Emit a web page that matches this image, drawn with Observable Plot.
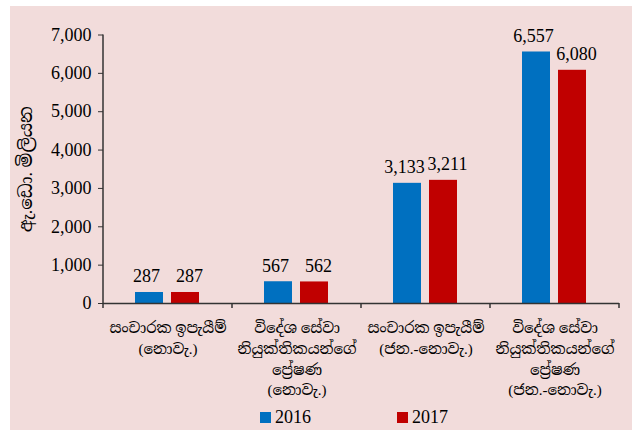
<!DOCTYPE html>
<html>
<head>
<meta charset="utf-8">
<script src="https://cdn.jsdelivr.net/npm/d3@7"></script>
<script src="https://cdn.jsdelivr.net/npm/@observablehq/plot@0.6"></script>
<style>
  html, body { margin: 0; padding: 0; background: #fff; }
  #box { position: absolute; left: 10px; top: 6px; width: 622px; height: 424px; background: #F2DCDB; overflow: hidden; }
  #legend { position: absolute; left: 250px; top: 401px; display: flex; gap: 86px; font-family: "Liberation Serif", serif; font-size: 18px; color: #000; }
  #legend .item { display: flex; align-items: center; gap: 4px; }
  #legend .sw { width: 11px; height: 11px; }
</style>
</head>
<body>
<div id="box"><div id="legend"></div></div>
<script>
const categories = [
  "සංචාරක ඉපැයීම්\n(නොවැ.)",
  "විදේශ සේවා\nනියුක්තිකයන්ගේ\nප්‍රේෂණ\n(නොවැ.)",
  "සංචාරක ඉපැයීම්\n(ජන.-නොවැ.)",
  "විදේශ සේවා\nනියුක්තිකයන්ගේ\nප්‍රේෂණ\n(ජන.-නොවැ.)"
];
const years = ["2016", "2017"];
const values2016 = [287, 567, 3133, 6557];
const values2017 = [287, 562, 3211, 6080];
const yTicks = [0, 1000, 2000, 3000, 4000, 5000, 6000, 7000];
const yLabel = "ඇ.ඩො. මිලියන";
const colors = ["#0070C0", "#C00000"];

const data = categories.flatMap((c, i) => [
  {cat: c, year: years[0], value: values2016[i]},
  {cat: c, year: years[1], value: values2017[i]}
]);
const fmt = d3.format(",");
const FONT = '"Liberation Serif", "Noto Serif Sinhala", "Noto Sans Sinhala", serif';

const labelMark = (yr, dx) => Plot.text(data.filter(d => d.year === yr), {
  fx: "cat", x: "year", y: "value", text: d => fmt(d.value),
  dy: -10, dx, lineAnchor: "bottom", fontSize: 18, fill: "#000"
});

const plot = Plot.plot({
  width: 622,
  height: 400,
  marginLeft: 92,
  marginRight: 13,
  marginTop: 28.5,
  marginBottom: 103,
  style: {background: "transparent", fontFamily: FONT, fontSize: "18px", color: "#000"},
  fx: {domain: categories, padding: 0, label: null, axis: null},
  x: {domain: years, paddingInner: 0.22, paddingOuter: 0.877, axis: null},
  y: {domain: [0, 7000]},
  color: {domain: years, range: colors},
  marks: [
    Plot.barY(data, {fx: "cat", x: "year", y: "value", fill: "year"}),
    labelMark(years[0], -3),
    labelMark(years[1], 4),
    Plot.ruleY([0], {stroke: "#333", strokeWidth: 1.5}),
    Plot.axisY({ticks: yTicks, tickFormat: fmt, tickSize: 5, tickPadding: 7, fontSize: 18, stroke: "#333",
      label: yLabel, labelAnchor: "center", labelArrow: "none", labelOffset: 84}),
    Plot.axisFx({anchor: "bottom", tickSize: 0, tickPadding: 15, fontSize: 15, lineHeight: 1.38, label: null})
  ]
});

const svg = d3.select(plot);
const fx = plot.scale("fx");
const y = plot.scale("y");
const x0 = fx.apply(categories[0]);
const g = svg.append("g").attr("stroke", "#333").attr("stroke-width", 1.5);
g.append("line").attr("x1", x0).attr("x2", x0).attr("y1", y.apply(0)).attr("y2", y.apply(7000));
const bounds = categories.map(c => fx.apply(c)).concat([fx.apply(categories[categories.length - 1]) + fx.bandwidth]);
bounds.forEach(b => {
  g.append("line").attr("x1", b).attr("x2", b).attr("y1", y.apply(0)).attr("y2", y.apply(0) + 5);
});

document.getElementById("box").appendChild(plot);
plot.style.position = "absolute";
plot.style.left = "0px";
plot.style.top = "0px";

const legend = d3.select("#legend");
years.forEach((yr, i) => {
  const it = legend.append("div").attr("class", "item");
  it.append("div").attr("class", "sw").style("background", colors[i]);
  it.append("span").text(yr);
});
</script>
</body>
</html>
